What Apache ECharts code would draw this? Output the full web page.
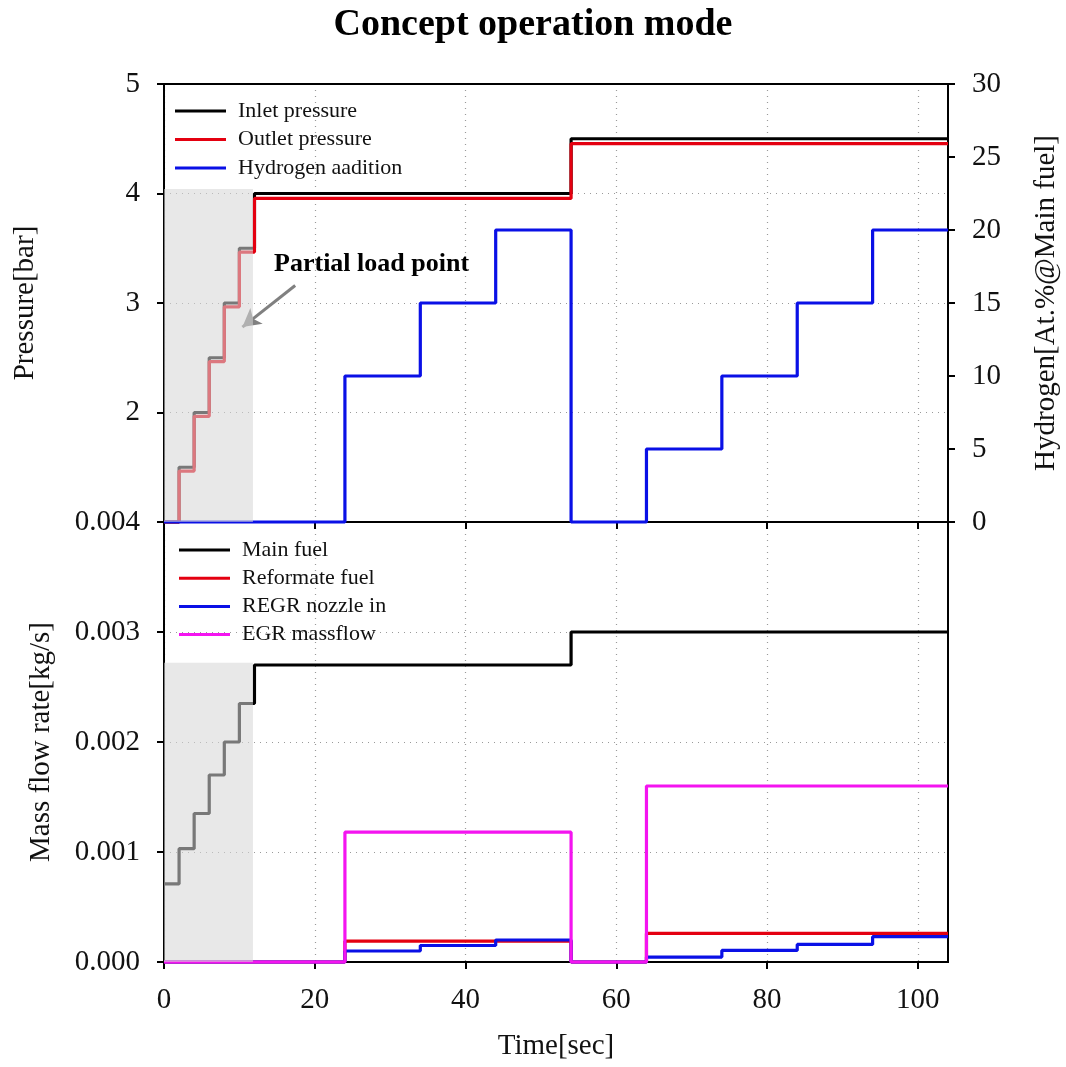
<!DOCTYPE html>
<html>
<head>
<meta charset="utf-8">
<script src="https://cdn.jsdelivr.net/npm/echarts@6/dist/echarts.min.js"></script>
<style>html,body{margin:0;padding:0;background:#fff;}#c{width:1066px;height:1067px;}</style>
</head>
<body>
<div id="c"></div>
<script>
// ---- data ----
const xTicks = [0, 20, 40, 60, 80, 100];
// top panel (pressure, bar; hydrogen, At.%)
const tPress = [0, 2, 4, 6, 8, 10, 12, 54, 104];
const inletPressure = [1.0, 1.5, 2.0, 2.5, 3.0, 3.5, 4.0, 4.5, 4.5];
const outletPressure = [1.0, 1.465, 1.965, 2.465, 2.965, 3.465, 3.955, 4.455, 4.455];
const tH2 = [0, 24, 34, 44, 54, 64, 74, 84, 94, 104];
const hydrogen = [0, 10, 15, 20, 0, 5, 10, 15, 20, 20];
// bottom panel (mass flow, kg/s)
const tFuel = [0, 2, 4, 6, 8, 10, 12, 54, 104];
const mainFuel = [0.00071, 0.00103, 0.00135, 0.0017, 0.002, 0.00235, 0.0027, 0.003, 0.003];
const tEgr = [0, 24, 54, 64, 104];
const reformateFuel = [0, 0.00019, 0, 0.00026, 0.00026];
const egrMassflow = [0, 0.00118, 0, 0.0016, 0.0016];
const tRegr = [0, 24, 34, 44, 54, 64, 74, 84, 94, 104];
const regrNozzle = [0, 0.0001, 0.00015, 0.0002, 0, 0.000045, 0.000105, 0.00016, 0.00023, 0.00023];
// shaded "partial load" regions [x0, y0, x1, y1]
const shadeTop = [[0, 1, 11.8, 4.04]];
const shadeBottom = [[0, 0, 11.8, 0.00272]];
const pressureMax = 5;

const pairs = (xs, ys) => xs.map((x, i) => [x, ys[i]]);
const FONT = 'Liberation Serif';
const C_BLACK = '#000000', C_RED = '#e40010', C_BLUE = '#0a10e6', C_MAG = '#f414f0';

function stepLine(name, xs, ys, color, xi, yi) {
  return {
    name, type: 'line', step: 'end', xAxisIndex: xi, yAxisIndex: yi,
    data: pairs(xs, ys), symbol: 'none', showSymbol: false, z: 2,
    lineStyle: { color, width: 3.2 }, itemStyle: { color }, clip: false
  };
}
function shade(data, xi, yi) {
  return {
    type: 'custom', xAxisIndex: xi, yAxisIndex: yi, z: 5, silent: true,
    data, encode: { x: [0, 2], y: [1, 3] },
    renderItem: (params, api) => {
      const p0 = api.coord([api.value(0), api.value(3)]);
      const p1 = api.coord([api.value(2), api.value(1)]);
      return { type: 'rect', shape: { x: p0[0], y: p0[1], width: p1[0] - p0[0], height: p1[1] - p0[1] },
               style: { fill: 'rgba(214,214,214,0.56)' } };
    }
  };
}
const axisLine = { show: true, onZero: false, lineStyle: { color: '#000', width: 2 } };
const tick = { show: true, inside: false, length: 7, lineStyle: { color: '#000', width: 2 } };
const split = { show: true, lineStyle: { color: '#9a9a9a', type: [1, 5], width: 1.2 } };
const labelStyle = { fontFamily: FONT, fontSize: 29, color: '#111' };
const nameStyle = { fontFamily: FONT, fontSize: 29, color: '#111' };
const legendText = { fontFamily: FONT, fontSize: 22, color: '#111', padding: [0, 0, 0, 7] };

const series = [
  stepLine('Inlet pressure', tPress, inletPressure, C_BLACK, 0, 0),
  stepLine('Outlet pressure', tPress, outletPressure, C_RED, 0, 0),
  stepLine('Hydrogen aadition', tH2, hydrogen, C_BLUE, 0, 1),
  stepLine('Main fuel', tFuel, mainFuel, C_BLACK, 1, 2),
  stepLine('Reformate fuel', tEgr, reformateFuel, C_RED, 1, 2),
  stepLine('REGR nozzle in', tRegr, regrNozzle, C_BLUE, 1, 2),
  stepLine('EGR massflow', tEgr, egrMassflow, C_MAG, 1, 2),
  shade(shadeTop, 0, 0),
  shade(shadeBottom, 1, 2),
  { type: 'scatter', xAxisIndex: 0, yAxisIndex: 0, z: 8, silent: true,
    data: [[14.6, 3.35]], symbolSize: 0, itemStyle: { color: '#000', opacity: 1 },
    label: { show: true, position: 'right', distance: 0, formatter: 'Partial load point', opacity: 1,
             fontFamily: FONT, fontSize: 26, fontWeight: 'bold', color: '#000' },
    markLine: { silent: true, symbol: ['none', 'arrow'], symbolSize: [15, 18], animation: false,
      label: { show: false }, lineStyle: { color: '#808080', width: 3, type: 'solid', opacity: 1 },
      data: [[{ coord: [17.4, 3.16] }, { coord: [10.4, 2.78] }]] } }
];
// solid top frame line of the upper panel
series[0].markLine = { silent: true, symbol: ['none', 'none'], animation: false, label: { show: false },
  lineStyle: { color: '#000', width: 2, type: 'solid' }, data: [{ yAxis: pressureMax }] };

const chart = echarts.init(document.getElementById('c'), null, { renderer: 'canvas' });
chart.setOption({
  animation: false,
  backgroundColor: '#fff',
  title: { text: 'Concept operation mode', left: 'center', top: 1,
           textStyle: { fontFamily: FONT, fontSize: 38, fontWeight: 'bold', color: '#000' } },
  grid: [
    { left: 164, right: 118, top: 84, height: 438, outerBoundsMode: 'none', containLabel: false,
      show: true, borderColor: '#000', borderWidth: 2, backgroundColor: 'transparent' },
    { left: 164, right: 118, top: 522, height: 440, outerBoundsMode: 'none', containLabel: false,
      show: true, borderColor: '#000', borderWidth: 2, backgroundColor: 'transparent' }
  ],
  legend: [
    { left: 175, top: 100, padding: 0, orient: 'vertical', icon: 'rect', itemWidth: 51, itemHeight: 3, itemGap: 6.5,
      data: ['Inlet pressure', 'Outlet pressure', 'Hydrogen aadition'], selectedMode: false,
      textStyle: legendText },
    { left: 179, top: 539, padding: 0, orient: 'vertical', icon: 'rect', itemWidth: 51, itemHeight: 3, itemGap: 6.2,
      data: ['Main fuel', 'Reformate fuel', 'REGR nozzle in', 'EGR massflow'], selectedMode: false,
      textStyle: legendText }
  ],
  xAxis: [
    { gridIndex: 0, type: 'value', min: 0, max: 104, interval: 20,
      axisLine, axisTick: Object.assign({ customValues: xTicks }, tick), splitLine: split,
      axisLabel: { show: false } },
    { gridIndex: 1, type: 'value', min: 0, max: 104, interval: 20,
      name: 'Time[sec]', nameLocation: 'middle', nameGap: 70, nameTextStyle: nameStyle,
      axisLine, axisTick: Object.assign({ customValues: xTicks }, tick), splitLine: split,
      axisLabel: Object.assign({ margin: 24, customValues: xTicks,
        formatter: v => (v === 104 ? '' : String(v)) }, labelStyle) }
  ],
  yAxis: [
    { gridIndex: 0, type: 'value', position: 'left', min: 1, max: 5, interval: 1,
      name: 'Pressure[bar]', nameLocation: 'middle', nameGap: 124, nameTextStyle: nameStyle,
      axisLine, axisTick: tick, splitLine: split,
      axisLabel: Object.assign({ margin: 24, formatter: v => (v === 1 ? '' : String(v)) }, labelStyle) },
    { gridIndex: 0, type: 'value', position: 'right', min: 0, max: 30, interval: 5,
      name: 'Hydrogen[At.%@Main fuel]', nameLocation: 'middle', nameGap: 84, nameTextStyle: nameStyle,
      axisLine, axisTick: tick, splitLine: { show: false },
      axisLabel: Object.assign({ margin: 24 }, labelStyle) },
    { gridIndex: 1, type: 'value', position: 'left', min: 0, max: 0.004, interval: 0.001,
      name: 'Mass flow rate[kg/s]', nameLocation: 'middle', nameGap: 108, nameTextStyle: nameStyle,
      axisLine, axisTick: tick, splitLine: split,
      axisLabel: Object.assign({ margin: 24, formatter: v => v.toFixed(3) }, labelStyle) }
  ],
  series
});
</script>
</body>
</html>
